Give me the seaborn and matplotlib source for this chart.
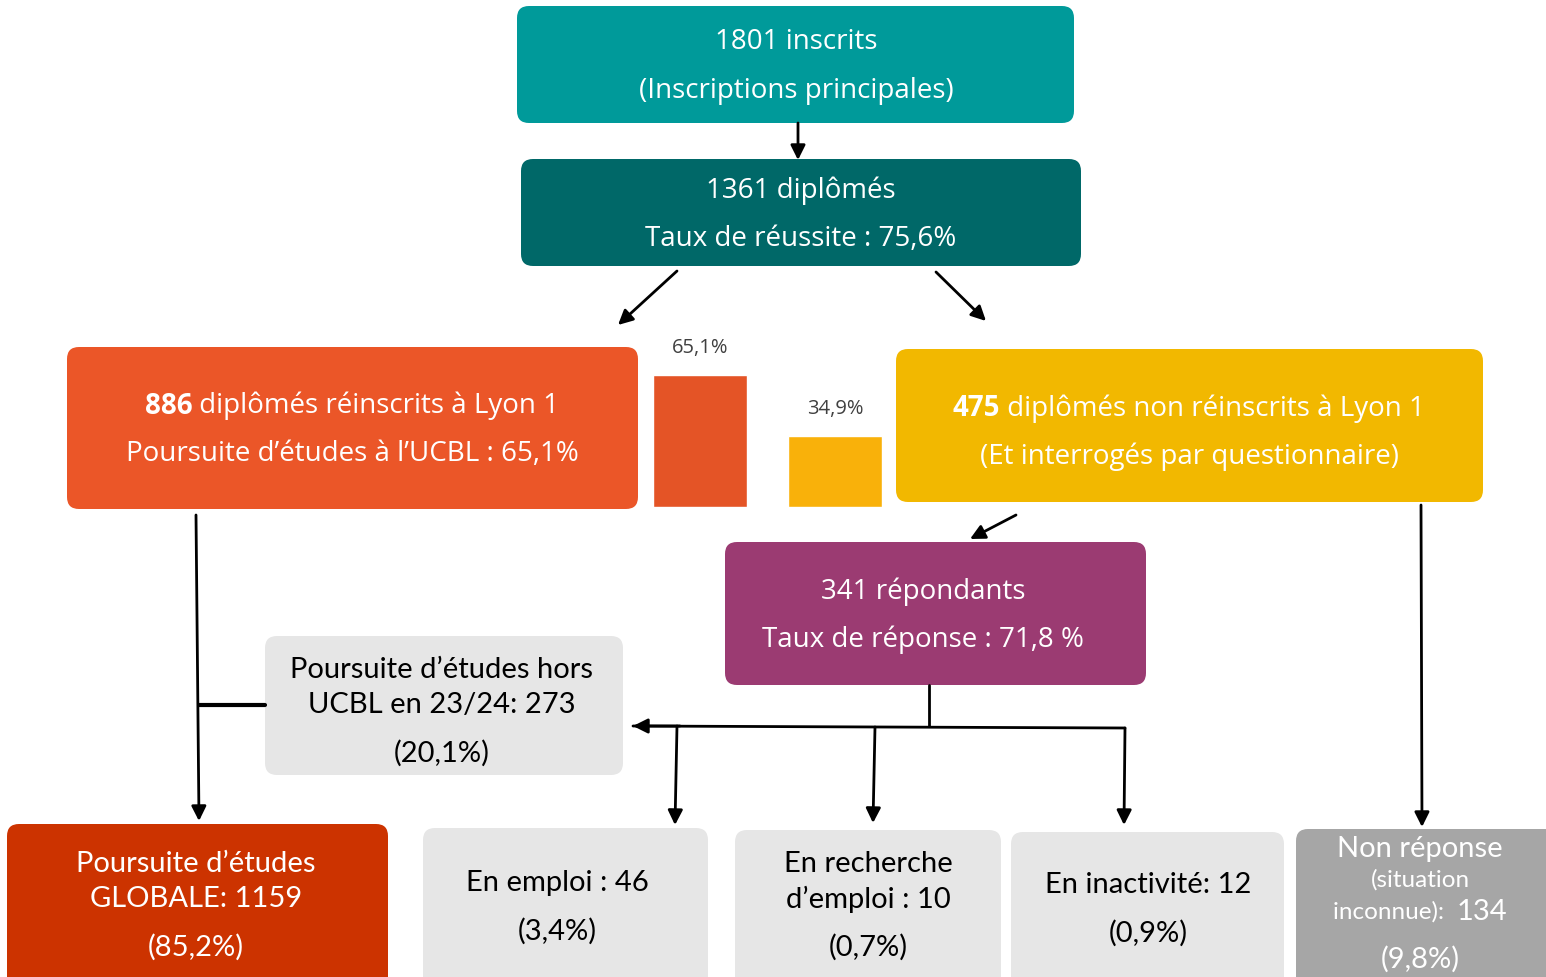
import numpy as np
import matplotlib
matplotlib.use("Agg")
import matplotlib.pyplot as plt
from matplotlib.patches import FancyBboxPatch
import seaborn as sns

# valeurs du schéma
n_inscrits = 1801
n_diplomes = 1361
taux_reussite = "75,6%"
n_reinscrits = 886
n_non_reinscrits = 475
n_repondants = 341
taux_reponse = "71,8 %"
bar_names = ["Réinscrits", "Non réinscrits"]
bar_values = [65.1, 34.9]
bar_labels = ["65,1%", "34,9%"]
n_hors_ucbl, pct_hors_ucbl = 273, "20,1%"
n_globale, pct_globale = 1159, "85,2%"
n_emploi, pct_emploi = 46, "3,4%"
n_recherche, pct_recherche = 10, "0,7%"
n_inactif, pct_inactif = 12, "0,9%"
n_non_rep, pct_non_rep = 134, "9,8%"

sns.set_theme(style="white")
plt.rcParams['font.family'] = ['Open Sans', 'DejaVu Sans']

fig = plt.figure(figsize=(15.46, 9.78), dpi=100)
ax = fig.add_axes([0, 0, 1, 1])
ax.set_xlim(0, 1546)
ax.set_ylim(978, 0)
ax.axis('off')
renderer = fig.canvas.get_renderer()

TOP = 'Open Sans'
LOW = 'Lato'
FT = 20    # taille du texte des boîtes du haut
FL = 21    # taille du texte des boîtes du bas


def box(x0, y0, x1, y1, color, r=12):
    p = FancyBboxPatch((x0, y0), x1 - x0, y1 - y0,
                       boxstyle=f"round,pad=0,rounding_size={r}",
                       fc=color, ec='none', zorder=1)
    ax.add_patch(p)


def line_text(x, y, parts, color, family):
    # parts : liste de (texte, taille, graisse)
    objs, widths = [], []
    for s, size, w in parts:
        t = ax.text(0, y + 2, s, fontsize=size, fontweight=w, color=color,
                    family=family, ha='left', va='center', zorder=3)
        widths.append(t.get_window_extent(renderer=renderer).width)
        objs.append(t)
    x0 = x - sum(widths) / 2
    for t, w in zip(objs, widths):
        t.set_x(x0)
        x0 += w


def arrow(x0, y0, x1, y1):
    ax.annotate("", xy=(x1, y1), xytext=(x0, y0),
                arrowprops=dict(arrowstyle="-|>", color="black", lw=2,
                                mutation_scale=22, shrinkA=0, shrinkB=0),
                zorder=2)


W = 'normal'
B = 'bold'

# boîtes du haut
box(517, 7, 1074, 124, '#009A9A')
line_text(796, 40, [(f"{n_inscrits} inscrits", FT, W)], 'white', TOP)
line_text(796, 89, [("(Inscriptions principales)", FT, W)], 'white', TOP)

box(521, 160, 1081, 267, '#006868')
line_text(801, 189, [(f"{n_diplomes} diplômés", FT, W)], 'white', TOP)
line_text(801, 237, [(f"Taux de réussite : {taux_reussite}", FT, W)], 'white', TOP)

box(67, 348, 638, 510, '#EB5628')
line_text(352, 404, [(f"{n_reinscrits}", FT, B), (" diplômés réinscrits à Lyon 1", FT, W)], 'white', TOP)
line_text(352, 452, [("Poursuite d’études à l’UCBL : 65,1%", FT, W)], 'white', TOP)

box(896, 350, 1483, 503, '#F2B800')
line_text(1189, 407, [(f"{n_non_reinscrits}", FT, B), (" diplômés non réinscrits à Lyon 1", FT, W)], 'white', TOP)
line_text(1189, 455, [("(Et interrogés par questionnaire)", FT, W)], 'white', TOP)

box(725, 543, 1146, 686, '#9B3B72')
line_text(923, 590, [(f"{n_repondants} répondants", FT, W)], 'white', TOP)
line_text(923, 638, [(f"Taux de réponse : {taux_reponse}", FT, W)], 'white', TOP)

# boîtes du bas
box(265, 637, 623, 776, '#E6E6E6')
line_text(442, 668, [("Poursuite d’études hors", FL, W)], 'black', LOW)
line_text(442, 703, [(f"UCBL en 23/24: {n_hors_ucbl}", FL, W)], 'black', LOW)
line_text(442, 751, [(f"({pct_hors_ucbl})", FL, W)], 'black', LOW)

box(7, 825, 388, 995, '#CC3300')
line_text(196, 862, [("Poursuite d’études", FL, W)], 'white', LOW)
line_text(196, 897, [(f"GLOBALE: {n_globale}", FL, W)], 'white', LOW)
line_text(196, 945, [(f"({pct_globale})", FL, W)], 'white', LOW)

box(423, 829, 708, 995, '#E6E6E6')
line_text(557, 881, [(f"En emploi : {n_emploi}", FL, W)], 'black', LOW)
line_text(557, 929, [(f"({pct_emploi})", FL, W)], 'black', LOW)

box(735, 831, 1001, 995, '#E6E6E6')
line_text(868, 862, [("En recherche", FL, W)], 'black', LOW)
line_text(868, 897, [(f"d’emploi : {n_recherche}", FL, W)], 'black', LOW)
line_text(868, 945, [(f"({pct_recherche})", FL, W)], 'black', LOW)

box(1011, 833, 1284, 995, '#E6E6E6')
line_text(1148, 883, [(f"En inactivité: {n_inactif}", FL, W)], 'black', LOW)
line_text(1148, 931, [(f"({pct_inactif})", FL, W)], 'black', LOW)

box(1296, 830, 1560, 995, '#A6A6A6')
line_text(1420, 847, [("Non réponse", FL, W)], 'white', LOW)
line_text(1420, 878, [("(situation", 17.5, W)], 'white', LOW)
line_text(1420, 910, [("inconnue):  ", 17.5, W), (f"{n_non_rep}", FL, W)], 'white', LOW)
line_text(1420, 957, [(f"({pct_non_rep})", FL, W)], 'white', LOW)

# flèches et traits
arrow(798, 124, 798, 161)
arrow(677, 272, 618, 326)
arrow(936, 273, 986, 322)
arrow(1016, 516, 970, 540)
arrow(1421, 506, 1422, 828)
arrow(196, 516, 199, 822)
ax.plot([199, 265], [706, 706], color='black', lw=3, zorder=2)
ax.plot([929, 929], [686, 727], color='black', lw=2, zorder=2)
ax.plot([633, 1125], [727, 729], color='black', lw=2, zorder=2)
arrow(680, 727, 633, 727)
arrow(677, 727, 675, 826)
arrow(875, 728, 873, 824)
arrow(1125, 729, 1124, 826)

# petit histogramme 65,1% / 34,9%
bx0, bx1, by_top, by_bot = 600, 935, 320, 508
bax = fig.add_axes([bx0 / 1546, 1 - by_bot / 978, (bx1 - bx0) / 1546, (by_bot - by_top) / 978])
sns.barplot(x=bar_names, y=bar_values, hue=bar_names, palette=['#E45426', '#F9B10A'],
            legend=False, width=94 / 135, saturation=1, ax=bax)
bax.set_xlim((bx0 - 700) / 135, (bx1 - 700) / 135)
bax.set_ylim(0, (by_bot - by_top) / 2.028)
for i, c in enumerate(bax.containers):
    bax.bar_label(c, labels=[bar_labels[i]], padding=13, fontsize=14.5,
                  color='#404040', family=TOP)
bax.axis('off')

fig.savefig("out.png", dpi=100)
